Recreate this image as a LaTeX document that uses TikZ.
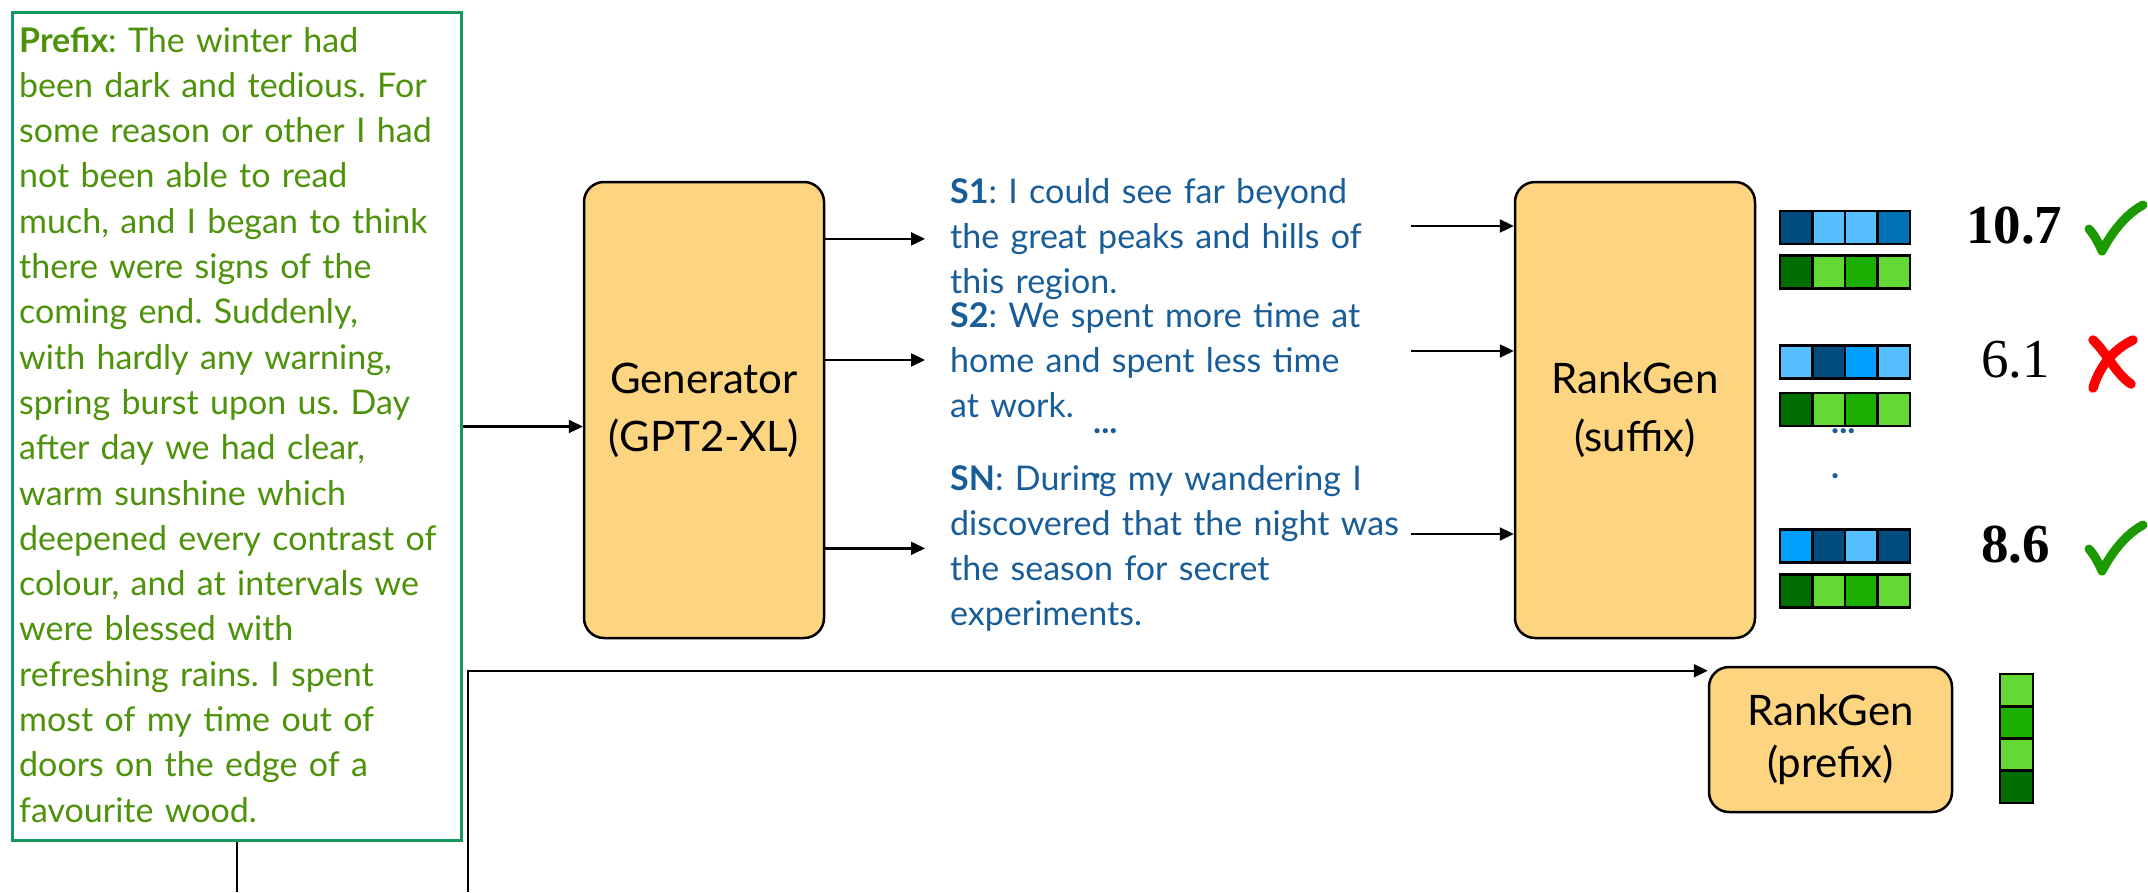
\documentclass[tikz,border=0pt]{standalone}
\usepackage{fontspec}
\setmainfont{Lato}
\newfontfamily\scorefont{Liberation Serif}
\usetikzlibrary{arrows.meta,positioning}

\definecolor{boxfill}{RGB}{253,212,127}
\definecolor{prefixgreen}{RGB}{78,146,12}
\definecolor{framegreen}{RGB}{20,150,95}
\definecolor{storyblue}{RGB}{24,92,152}
\definecolor{bdark}{RGB}{0,76,127}
\definecolor{blight}{RGB}{86,191,255}
\definecolor{bmid}{RGB}{0,115,183}
\definecolor{bbright}{RGB}{0,160,255}
\definecolor{gdark}{RGB}{0,110,0}
\definecolor{glight}{RGB}{98,217,52}
\definecolor{gmid}{RGB}{30,176,0}
\definecolor{okgreen}{RGB}{26,153,0}

\tikzset{
  model/.style={draw, line width=2.5pt, rounded corners=20pt, fill=boxfill, align=center},
  link/.style={line width=2.3pt, -{Triangle[length=14pt,width=13pt]}},
  wire/.style={line width=2.3pt},
  cell/.style={draw, line width=2.7pt, minimum width=32.5pt, minimum height=33pt, inner sep=0pt},
  story/.style={text width=520pt, align=left, text=storyblue, font=\fontsize{34}{45.3}\selectfont, inner xsep=25pt, inner ysep=0pt, anchor=base west},
  score/.style={font=\scorefont\fontsize{55}{55}\selectfont, inner sep=0pt, anchor=base west},
  okmark/.style={okgreen, line width=9pt, line cap=round, line join=round},
  badmark/.style={red, line width=9.5pt, line cap=round},
}
\frenchspacing

\begin{document}
\begin{tikzpicture}[x=1pt, y=-1pt]
    \useasboundingbox (0,0) rectangle (2148,892);

    \node[draw=framegreen, line width=3pt, minimum width=449pt, minimum height=828pt, anchor=north west] (prefix) at (11,11) {};
    \node[text width=600pt, align=left, text=prefixgreen, font=\fontsize{34}{45.3}\selectfont, inner sep=0pt, anchor=base west] (prefixtext) at (19,52)
      {\textbf{Prefix}: The winter had\\been dark and tedious. For\\some reason or other I had\\not been able to read\\much, and I began to think\\there were signs of the\\coming end. Suddenly,\\with hardly any warning,\\spring burst upon us. Day\\after day we had clear,\\warm sunshine which\\deepened every contrast of\\colour, and at intervals we\\were blessed with\\refreshing rains. I spent\\most of my time out of\\doors on the edge of a\\favourite wood.};

    \node[model, minimum width=240pt, minimum height=456pt, font=\fontsize{42}{58}\selectfont] (gen) at (704,410) {Generator\\(GPT2-XL)};
    \node[model, minimum width=240pt, minimum height=456pt, font=\fontsize{42}{58}\selectfont] (rgs) at (1635,410) {RankGen\\(suffix)};
    \node[model, minimum width=243pt, minimum height=145pt, font=\fontsize{42}{52}\selectfont] (rgp) at (1830.5,739.5) {RankGen\\(prefix)};

    \node[story] (s1) at (925,203) {\textbf{S1}: I could see far beyond\\the great peaks and hills of\\this region.};
    \node[story] (s2) at (925,327) {\textbf{S2}: We spent more time at\\home and spent less time\\at work.};
    \node[story] (sn) at (925,490) {\textbf{SN}: During my wandering I\\discovered that the night was\\the season for secret\\experiments.};
    \node[story, inner xsep=0pt, text width=60pt] (sgap) at (1093,433) {\textbf{...}\\\textbf{.}};

    \foreach \row/\ypos/\ca/\cb/\cc/\cd in {
      s1/227.5/bdark/blight/blight/bmid,
      p1/272/gdark/glight/gmid/glight,
      s2/362/blight/bdark/bbright/blight,
      p2/409.5/gdark/glight/gmid/glight,
      s3/546/bbright/bdark/blight/bdark,
      p3/591/gdark/glight/gmid/glight}
      \foreach \col [count=\i] in {\ca,\cb,\cc,\cd}
        \node[cell, fill=\col] (\row-\i) at ({1796.25+32.5*(\i-1)},\ypos) {};
    \foreach \col [count=\i] in {glight,gmid,glight,gdark}
      \node[cell, fill=\col, minimum width=33pt, minimum height=32.25pt] (q-\i) at (2016.5,{690.1+32.25*(\i-1)}) {};
    \node[story, inner xsep=0pt, text width=60pt] (vgap) at (1831,433) {\textbf{...}\\\textbf{.}};

    \node[score] (sc1) at (1966,243) {\textbf{10.7}};
    \node[score] (sc2) at (1981,377) {6.1};
    \node[score] (sc3) at (1981,562) {\textbf{8.6}};
    \foreach \dy in {0,320}
      \draw[okmark] (2089,229+\dy) .. controls (2095,236+\dy) and (2099,244+\dy) .. (2102,251+\dy)
        .. controls (2112,232+\dy) and (2126,214+\dy) .. (2143,205+\dy);
    \draw[badmark] (2093,340) .. controls (2106,352) and (2116,374) .. (2131,384);
    \draw[badmark] (2133,340) .. controls (2112,350) and (2099,368) .. (2093,388);

    \coordinate (in1) at (1411,226);
    \coordinate (in2) at (1411,351);
    \coordinate (in3) at (1411,534);
    \coordinate (cut) at (0,892);
    \coordinate (feed) at (468,892);

    \draw[link] (prefix.east) -- (prefix.east -| gen.west);
    \draw[link] (gen.east |- s1.west) -- (s1.west);
    \draw[link] (gen.east |- s2.west) -- (s2.west);
    \draw[link] (gen.east |- sn.west) -- (sn.west);
    \draw[link] (in1) -- (in1 -| rgs.west);
    \draw[link] (in2) -- (in2 -| rgs.west);
    \draw[link] (in3) -- (in3 -| rgs.west);
    \draw[wire] (prefix.south) -- (prefix.south |- cut);
    \draw[link] (feed) |- ([yshift=-5pt]rgp.north west);
\end{tikzpicture}
\end{document}
